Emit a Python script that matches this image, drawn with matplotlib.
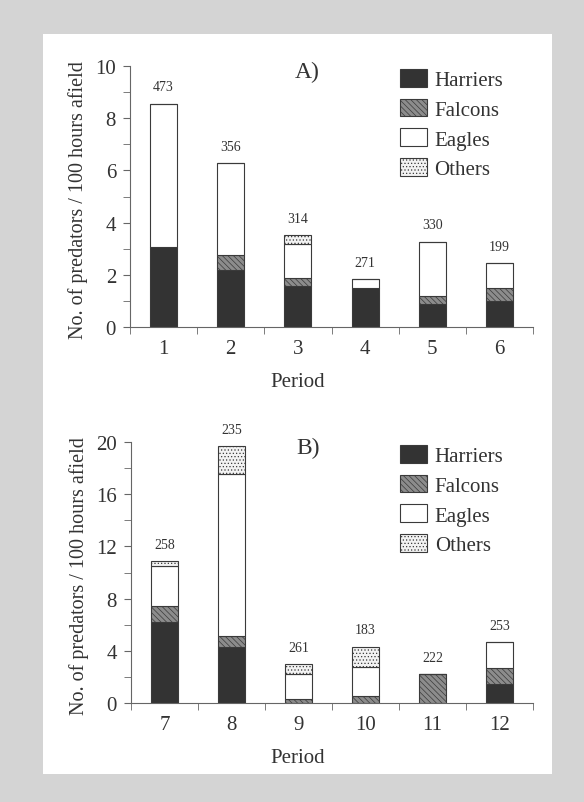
import numpy as np
import matplotlib.pyplot as plt
from matplotlib.patches import Rectangle, Patch

plt.rcParams['font.family'] = 'serif'
plt.rcParams['font.serif'] = ['Liberation Serif', 'Times New Roman', 'DejaVu Serif']
plt.rcParams['hatch.linewidth'] = 0.5

# panel A data (periods 1-6)
periods_a = ['1', '2', '3', '4', '5', '6']
harriers_a = [3.06, 2.17, 1.57, 1.49, 0.87, 0.99]
falcons_a = [0.0, 0.57, 0.30, 0.0, 0.31, 0.50]
eagles_a = [5.50, 3.54, 1.30, 0.36, 2.09, 0.96]
others_a = [0.0, 0.0, 0.36, 0.0, 0.0, 0.0]
n_a = [473, 356, 314, 271, 330, 199]

# panel B data (periods 7-12)
periods_b = ['7', '8', '9', '10', '11', '12']
harriers_b = [6.20, 4.29, 0.0, 0.0, 0.0, 1.48]
falcons_b = [1.23, 0.87, 0.33, 0.54, 2.22, 1.20]
eagles_b = [3.04, 12.41, 1.92, 2.22, 0.0, 1.97]
others_b = [0.43, 2.12, 0.71, 1.56, 0.0, 0.0]
n_b = [258, 235, 261, 183, 222, 253]

groups = ['Harriers', 'Falcons', 'Eagles', 'Others']
styles = {
    'Harriers': dict(facecolor='#333333', hatch=None),
    'Falcons': dict(facecolor='#8c8c8c', hatch='\\\\\\\\\\\\'),
    'Eagles': dict(facecolor='white', hatch=None),
    'Others': dict(facecolor='#f2f2f2', hatch='.....'),
}

W, H = 584, 803
fig = plt.figure(figsize=(W / 100, H / 100), dpi=100, facecolor='#d4d4d4')
fig.patches.append(Rectangle((43 / W, 1 - 775 / H), (552 - 43) / W, (775 - 35) / H,
                             transform=fig.transFigure, facecolor='white',
                             edgecolor='none', zorder=-5))


def panel(rect, labels, series, totals, ymax, major, title):
    ax = fig.add_axes(rect)
    ax.set_facecolor('none')
    x = np.arange(1, len(labels) + 1)
    bottom = np.zeros(len(labels))
    for name, vals in zip(groups, series):
        vals = np.array(vals)
        st = styles[name]
        ax.bar(x, vals, 0.4, bottom=bottom, facecolor=st['facecolor'], hatch=st['hatch'],
               edgecolor='#3a3a3a', linewidth=0.8)
        bottom = bottom + vals
    for xi, top, n in zip(x, bottom, totals):
        ax.annotate(str(n), xy=(xi, top), xytext=(0, 12), textcoords='offset points',
                    ha='center', va='center', fontsize=10, color='#333333')
    ax.set_xlim(0.5, len(labels) + 0.5)
    ax.set_ylim(0, ymax)
    ax.set_xticks(x)
    ax.set_xticklabels(labels)
    ax.set_xticks(np.arange(0.5, len(labels) + 1), minor=True)
    ax.tick_params(axis='x', which='major', length=0, pad=9, labelsize=15, colors='#333333')
    ax.tick_params(axis='x', which='minor', length=5, direction='out', color='#666666')
    ax.set_yticks(np.arange(0, ymax + 0.1, major))
    ax.set_yticks(np.arange(0, ymax + 0.1, major / 2), minor=True)
    ax.tick_params(axis='y', which='major', length=5, labelsize=15, colors='#333333', pad=5)
    ax.tick_params(axis='y', which='minor', length=5, color='#666666')
    ax.tick_params(axis='y', which='major', color='#666666')
    ax.spines[['top', 'right']].set_visible(False)
    ax.spines[['left', 'bottom']].set_color('#666666')
    ax.text(0.44, 0.98, title, transform=ax.transAxes, ha='center', va='center',
            fontsize=17, color='#333333')
    ax.text(0.415, -0.21, 'Period', transform=ax.transAxes, ha='center', va='center',
            fontsize=15, color='#333333')
    ax.text(-0.13, 0.49, 'No. of predators / 100 hours afield', transform=ax.transAxes,
            rotation=90, ha='center', va='center', fontsize=14.5, color='#333333')
    handles = [Patch(facecolor=styles[g]['facecolor'], hatch=styles[g]['hatch'],
                     edgecolor='#3a3a3a', linewidth=0.8, label=g) for g in groups]
    ax.legend(handles=handles, loc='upper left', bbox_to_anchor=(0.67, 0.99),
              frameon=False, fontsize=15, handlelength=1.3, handleheight=0.95,
              labelspacing=0.42, handletextpad=0.35, borderaxespad=0, borderpad=0,
              labelcolor='#333333')
    return ax


panel([130 / W, 1 - 328 / H, 403 / W, 261 / H], periods_a,
      [harriers_a, falcons_a, eagles_a, others_a], n_a, 10, 2, 'A)')
panel([131 / W, 1 - 704 / H, 402 / W, 261 / H], periods_b,
      [harriers_b, falcons_b, eagles_b, others_b], n_b, 20, 4, 'B)')

fig.savefig('out.png', dpi=100, facecolor=fig.get_facecolor())
